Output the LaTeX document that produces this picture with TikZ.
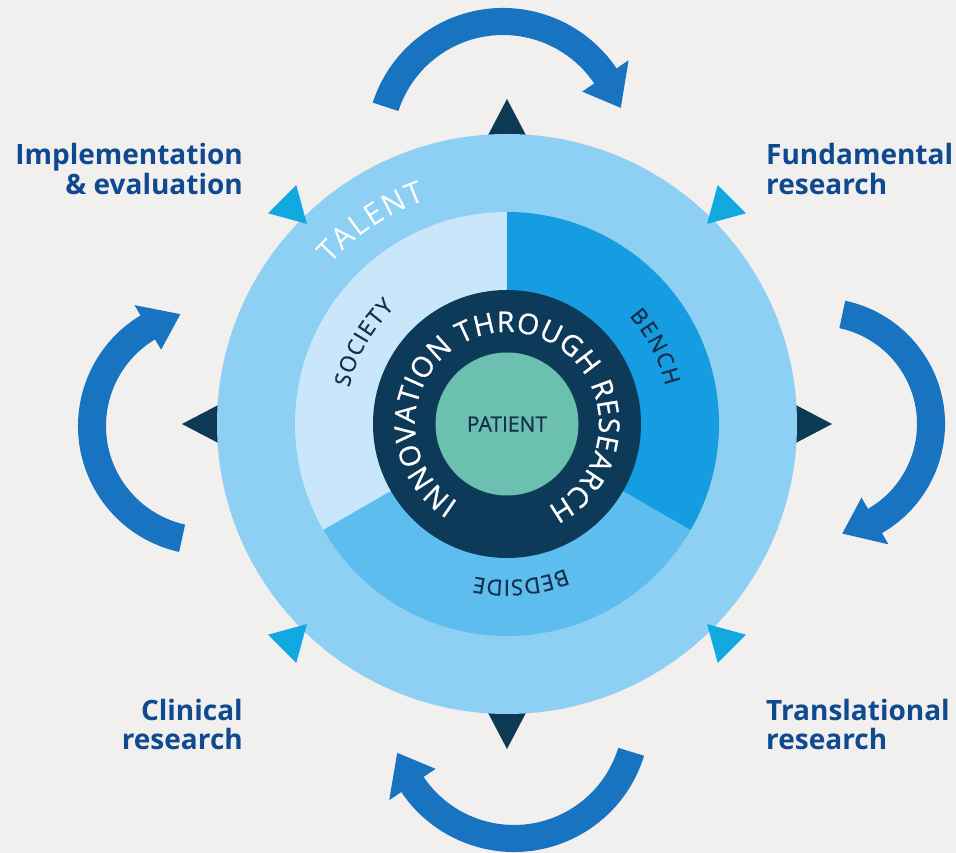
\documentclass[tikz,border=0pt]{standalone}
\usepackage{fontspec}
\setmainfont{Open Sans}
\newfontfamily\medfont[FakeBold=0.8]{Open Sans}
\usetikzlibrary{decorations.text}
\definecolor{bgc}{HTML}{F1F0EF}
\definecolor{outerc}{HTML}{8ED0F3}
\definecolor{societyc}{HTML}{C9E6FA}
\definecolor{benchc}{HTML}{169CE0}
\definecolor{bedsidec}{HTML}{5CBDEE}
\definecolor{darkc}{HTML}{0C3A58}
\definecolor{patientc}{HTML}{6CC0B0}
\definecolor{arrowc}{HTML}{1874C1}
\definecolor{tridark}{HTML}{0C3953}
\definecolor{trilight}{HTML}{12A9E1}
\definecolor{labelc}{HTML}{0F4A91}
\definecolor{inkc}{HTML}{14304A}
% cx cy r1 r2 tailangle headbase tipangle halfheadwidth
\newcommand\cyclearrow[8]{%
  \pgfmathsetmacro\arRm{(#3+#4)/2}%
  \pgfmathsetmacro\arRh{\arRm+#8}%
  \pgfmathsetmacro\arRl{\arRm-#8}%
  \coordinate (ac) at (#1,#2);
  \fill[arrowc] ([shift={(#5:#4)}]ac) arc[start angle=#5,end angle=#6,radius=#4]
    -- ([shift={(#6:\arRh)}]ac) -- ([shift={(#7:\arRm)}]ac) -- ([shift={(#6:\arRl)}]ac)
    -- ([shift={(#6:#3)}]ac) arc[start angle=#6,end angle=#5,radius=#3] -- cycle;
}
\begin{document}
\begin{tikzpicture}[x=1pt,y=1pt,
  lbl/.style={font=\fontsize{28}{30}\selectfont\bfseries, text=labelc, inner sep=0pt}]
\fill[bgc] (0,0) rectangle (956,853);
\useasboundingbox (0,0) rectangle (956,853);
\coordinate (C) at (507,429);
% dark triangles
\foreach \ang in {0,90,180,270}{
  \fill[tridark, shift={(C)}, rotate=\ang] (325,0) -- (283,22) -- (283,-22) -- cycle;
}
% rings
\fill[outerc] (C) circle[radius=290];
\fill[societyc] (C) -- ([shift={(90:212)}]C) arc[start angle=90,end angle=210,radius=212] -- cycle;
\fill[bedsidec] (C) -- ([shift={(210:212)}]C) arc[start angle=210,end angle=330,radius=212] -- cycle;
\fill[benchc] (C) -- ([shift={(-30:212)}]C) arc[start angle=-30,end angle=90,radius=212] -- cycle;
\fill[darkc] (C) circle[radius=134];
\node[circle, fill=patientc, minimum size=143pt, inner sep=0pt,
  font=\medfont\fontsize{21}{21}\selectfont, text=inkc] (patient) at (C) {PATIENT};
% curved texts
\path[decorate, decoration={text along path,
  text={|\medfont\fontsize{28.5}{28.5}\selectfont|INNOVATION THROUGH RESEARCH},
  text color=white, text align={fit to path}}]
  ([shift={(238:92)}]C) arc[start angle=238,end angle=-64,radius=92];
\path[decorate, decoration={text along path,
  text={|\fontsize{30}{30}\selectfont|TALENT},
  text color=white, text align={fit to path}}]
  ([shift={(138:238)}]C) arc[start angle=138,end angle=110,radius=238];
\path[decorate, decoration={text along path,
  text={|\medfont\fontsize{22}{22}\selectfont|SOCIETY},
  text color=inkc, text align={fit to path}}]
  ([shift={(167:162)}]C) arc[start angle=167,end angle=134,radius=162];
\path[decorate, decoration={text along path,
  text={|\medfont\fontsize{22}{22}\selectfont|BENCH},
  text color=inkc, text align={fit to path}}]
  ([shift={(41.5:163)}]C) arc[start angle=41.5,end angle=13.5,radius=163];
\path[decorate, decoration={text along path,
  text={|\medfont\fontsize{22}{22}\selectfont|BEDSIDE},
  text color=inkc, text align={fit to path}}]
  ([shift={(292:156)}]C) arc[start angle=292,end angle=258,radius=156];
% light triangles
\foreach \ang in {45,135,225,315}{
  \fill[trilight, shift={(C)}, rotate=\ang] (283,0) -- (318,20) -- (318,-20) -- cycle;
}
% cycle arrows
\cyclearrow{503}{708}{110}{137}{162}{34}{17.5}{28}
\cyclearrow{819}{429}{98}{126}{78}{-60}{-78}{27}
\cyclearrow{514}{137}{109}{136}{-17}{-146}{-162.5}{28}
\cyclearrow{207}{427}{101}{129}{257.5}{121}{103.4}{26}
% labels
\node[lbl, anchor=base east] (impl1) at (243,688) {Implementation};
\node[lbl, anchor=base east] (impl2) at (243,658) {\& evaluation};
\node[lbl, anchor=base west] (fund1) at (766,688) {Fundamental};
\node[lbl, anchor=base west] (fund2) at (766,658) {research};
\node[lbl, anchor=base east] (clin1) at (243,132) {Clinical};
\node[lbl, anchor=base east] (clin2) at (243,103) {research};
\node[lbl, anchor=base west] (trans1) at (766,132) {Translational};
\node[lbl, anchor=base west] (trans2) at (766,103) {research};
\end{tikzpicture}
\end{document}
